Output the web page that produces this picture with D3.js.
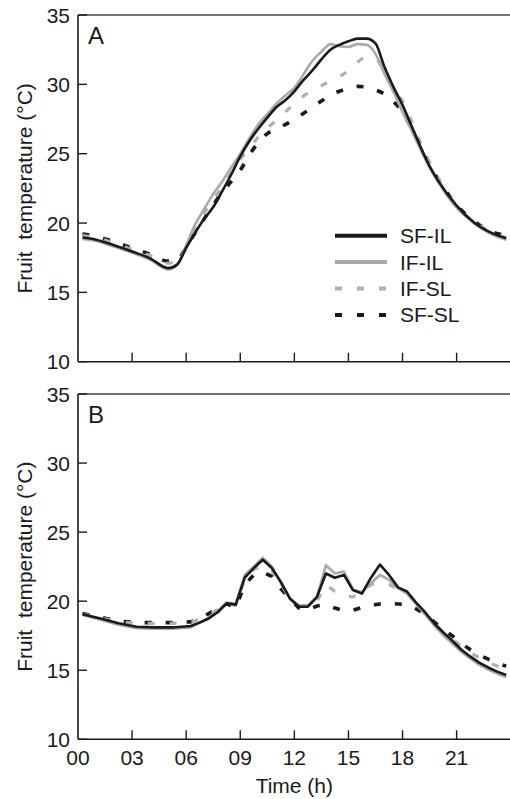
<!DOCTYPE html>
<html>
<head>
<meta charset="utf-8">
<script src="https://cdn.jsdelivr.net/npm/d3@7/dist/d3.min.js"></script>
<style>
  body { margin: 0; background: #fff; }
  text { font-family: "Liberation Sans", Arial, sans-serif; fill: #1a1a1a; }
</style>
</head>
<body>
<div id="chart"></div>
<script>
// ---- data ----
var seriesNames = ["SF-IL", "IF-IL", "IF-SL", "SF-SL"];
var yTicks = [10, 15, 20, 25, 30, 35];
var xTicks = [0, 3, 6, 9, 12, 15, 18, 21];
var xTickLabels = ["00", "03", "06", "09", "12", "15", "18", "21"];
var panelLabels = ["A", "B"];

// panel A: hours
var timeA = [0.25, 1, 2, 3, 4, 5, 5.5, 6, 6.5, 7, 7.5, 8, 8.5, 9, 9.5, 10, 10.5, 11, 11.5, 12,
  12.5, 13, 13.5, 14, 14.5, 15, 15.5, 16, 16.5, 17, 17.5, 18, 18.5, 19, 19.5, 20, 21, 22, 23, 23.75];
var sfIlA = [18.95, 18.8, 18.4, 17.95, 17.45, 16.75, 17.0, 18.2, 19.3, 20.3, 21.15, 22.3, 23.5, 24.8, 25.9, 26.8, 27.6, 28.35, 28.85, 29.5,
  30.3, 31.0, 31.8, 32.5, 32.85, 33.1, 33.3, 33.3, 32.95, 31.25, 29.8, 28.5, 27.0, 25.5, 24.1, 23.0, 21.25, 20.0, 19.25, 18.9];
var ifIlA = [18.85, 18.7, 18.3, 17.85, 17.35, 16.65, 17.0, 18.4, 19.9, 21.0, 22.1, 23.0, 24.0, 25.0, 26.1, 27.1, 27.85, 28.6, 29.2, 29.75,
  30.7, 31.7, 32.35, 32.9, 32.75, 32.7, 32.9, 32.85, 32.2, 30.75, 29.45, 28.0, 26.7, 25.3, 24.0, 22.9, 21.1, 19.95, 19.15, 18.8];
var ifSlA = [19.1, 18.95, 18.55, 18.1, 17.65, 17.1, 17.2, 18.3, 19.6, 20.7, 21.7, 22.6, 23.6, 24.6, 25.4, 26.2, 26.85, 27.4, 28.0, 28.6,
  29.15, 29.55, 29.9, 30.25, 30.55, 31.0, 31.6, 31.95, 31.9, 30.8, 29.6, 28.8, 27.35, 25.8, 24.4, 23.2, 21.2, 20.05, 19.3, 18.95];
var sfSlA = [19.2, 19.05, 18.65, 18.2, 17.75, 17.25, 17.3, 18.3, 19.3, 20.3, 21.3, 22.2, 23.0, 23.8, 24.9, 25.8, 26.45, 26.8, 27.1, 27.5,
  27.9, 28.35, 28.8, 29.2, 29.5, 29.7, 29.85, 29.8, 29.6, 29.3, 28.75, 28.0, 26.8, 25.5, 24.2, 23.1, 21.3, 20.1, 19.35, 19.1];

// panel B: hours
var timeB = [0.25, 1.25, 2.25, 3.25, 4.25, 5.25, 6.25, 6.75, 7.25, 7.75, 8.25, 8.75, 9.25, 9.75, 10.25, 10.75, 11.25, 11.75, 12.25, 12.75,
  13.25, 13.75, 14.25, 14.75, 15.25, 15.75, 16.25, 16.75, 17.25, 17.75, 18.25, 18.75, 19.25, 19.75, 20.25, 20.75, 21.25, 21.75, 22.25, 22.75,
  23.25, 23.75];
var sfIlB = [19.05, 18.75, 18.4, 18.15, 18.1, 18.1, 18.2, 18.45, 18.75, 19.2, 19.85, 19.75, 21.7, 22.4, 23.0, 22.4, 21.4, 20.2, 19.6, 19.6,
  20.3, 22.0, 21.7, 21.9, 20.8, 20.55, 21.7, 22.65, 21.9, 21.0, 20.7, 19.9, 19.2, 18.4, 17.75, 17.15, 16.5, 16.0, 15.55, 15.2,
  14.9, 14.65];
var ifIlB = [19.0, 18.65, 18.3, 18.05, 18.0, 18.0, 18.1, 18.45, 18.8, 19.3, 19.9, 19.8, 21.9, 22.5, 23.15, 22.5, 21.3, 20.2, 19.7, 19.7,
  20.3, 22.6, 22.0, 22.15, 20.85, 20.65, 21.3, 21.9, 21.55, 20.95, 20.55, 19.8, 19.05, 18.25, 17.55, 16.95, 16.35, 15.85, 15.4, 15.05,
  14.75, 14.5];
var ifSlB = [19.05, 18.8, 18.5, 18.4, 18.4, 18.4, 18.45, 18.7, 19.0, 19.4, 19.85, 19.7, 21.6, 22.3, 22.6, 22.2, 21.2, 20.25, 19.7, 19.6,
  20.0, 21.2, 20.7, 20.4, 20.3, 20.7, 21.2, 21.3, 21.2, 20.9, 20.6, 19.85, 19.1, 18.4, 17.75, 17.25, 16.75, 16.3, 15.9, 15.55,
  15.3, 15.15];
var sfSlB = [19.1, 18.85, 18.55, 18.45, 18.45, 18.45, 18.5, 18.75, 19.1, 19.5, 19.8, 19.55, 21.2, 21.9, 22.1, 21.8, 20.9, 20.2, 19.5, 19.35,
  19.65, 19.75, 19.5, 19.3, 19.35, 19.55, 19.7, 19.8, 19.85, 19.8, 19.75, 19.45, 19.05, 18.5, 18.0, 17.5, 16.95, 16.5, 16.1, 15.8,
  15.5, 15.3];

// ---- styles ----
var styles = {
  "SF-IL": {color: "#1a1a1a", width: 2.6, dash: null},
  "IF-IL": {color: "#a9a9a9", width: 2.6, dash: null},
  "IF-SL": {color: "#b0b0b0", width: 3.2, dash: "7,15"},
  "SF-SL": {color: "#1a1a1a", width: 3.6, dash: "7,14"}
};
var fontSize = "21px";

var width = 510, height = 799;
var svg = d3.select("#chart").append("svg")
  .attr("width", width)
  .attr("height", height);

var x = d3.scaleLinear().domain([0, 24]).range([78, 510.7]);

var panels = [
  {label: panelLabels[0], top: 15, bottom: 361.7, time: timeA, curve: d3.curveMonotoneX,
    values: {"SF-IL": sfIlA, "IF-IL": ifIlA, "IF-SL": ifSlA, "SF-SL": sfSlA}, xLabels: false, legend: true},
  {label: panelLabels[1], top: 394, bottom: 739.3, time: timeB, curve: d3.curveLinear,
    values: {"SF-IL": sfIlB, "IF-IL": ifIlB, "IF-SL": ifSlB, "SF-SL": sfSlB}, xLabels: true, legend: false}
];

panels.forEach(function(p) {
  var y = d3.scaleLinear().domain([10, 35]).range([p.bottom, p.top]);
  var g = svg.append("g");

  // series, drawn so that the black solid ends on top
  var order = ["SF-SL", "IF-SL", "IF-IL", "SF-IL"];
  order.forEach(function(name) {
    var vals = p.values[name];
    var pts = p.time.map(function(t, i) { return [t, vals[i]]; });
    var line = d3.line()
      .x(function(d) { return x(d[0]); })
      .y(function(d) { return y(d[1]); })
      .curve(p.curve);
    var st = styles[name];
    g.append("path")
      .attr("d", line(pts))
      .attr("fill", "none")
      .attr("stroke", st.color)
      .attr("stroke-width", st.width)
      .attr("stroke-dasharray", st.dash)
      .attr("stroke-linejoin", "round");
  });

  // frame: top line, left axis, bottom axis
  g.append("line")
    .attr("x1", x(0)).attr("x2", width)
    .attr("y1", p.top).attr("y2", p.top)
    .attr("stroke", "#444").attr("stroke-width", 1.6);
  g.append("line")
    .attr("x1", x(0)).attr("x2", x(0))
    .attr("y1", p.top).attr("y2", p.bottom)
    .attr("stroke", "#1a1a1a").attr("stroke-width", 1.6);
  g.append("line")
    .attr("x1", x(0)).attr("x2", width)
    .attr("y1", p.bottom).attr("y2", p.bottom)
    .attr("stroke", "#1a1a1a").attr("stroke-width", 1.6);

  // y ticks (inward) + labels
  yTicks.forEach(function(v) {
    g.append("line")
      .attr("x1", x(0)).attr("x2", x(0) + 9)
      .attr("y1", y(v)).attr("y2", y(v))
      .attr("stroke", "#1a1a1a").attr("stroke-width", 1.4);
    g.append("text")
      .attr("x", 70).attr("y", y(v))
      .attr("dy", "0.36em")
      .attr("text-anchor", "end")
      .style("font-size", fontSize)
      .text(v);
  });

  // x ticks (inward)
  xTicks.forEach(function(t, i) {
    if (t > 0) {
      g.append("line")
        .attr("x1", x(t)).attr("x2", x(t))
        .attr("y1", p.bottom).attr("y2", p.bottom - 9)
        .attr("stroke", "#1a1a1a").attr("stroke-width", 1.4);
    }
    if (p.xLabels) {
      g.append("text")
        .attr("x", x(t)).attr("y", p.bottom + 26)
        .attr("text-anchor", "middle")
        .style("font-size", fontSize)
        .text(xTickLabels[i]);
    }
  });

  // y title
  g.append("text")
    .attr("transform", "translate(32," + ((p.top + p.bottom) / 2) + ") rotate(-90)")
    .attr("text-anchor", "middle")
    .style("font-size", fontSize)
    .text("Fruit\u00A0 temperature (\u00B0C)");

  // panel letter
  g.append("text")
    .attr("x", 88).attr("y", p.top + 28.5)
    .style("font-size", "24px")
    .text(p.label);

  if (p.legend) {
    var leg = g.append("g");
    seriesNames.forEach(function(name, i) {
      var ly = 235.7 + i * 26.4;
      var st = styles[name];
      leg.append("line")
        .attr("x1", 335).attr("x2", 387)
        .attr("y1", ly).attr("y2", ly)
        .attr("stroke", st.color)
        .attr("stroke-width", 4)
        .attr("stroke-dasharray", st.dash ? "7,15" : null);
      leg.append("text")
        .attr("x", 400).attr("y", ly)
        .attr("dy", "0.36em")
        .style("font-size", fontSize)
        .text(name);
    });
  }
});

// x title
svg.append("text")
  .attr("x", x(12)).attr("y", 793)
  .attr("text-anchor", "middle")
  .style("font-size", fontSize)
  .text("Time (h)");
</script>
</body>
</html>
